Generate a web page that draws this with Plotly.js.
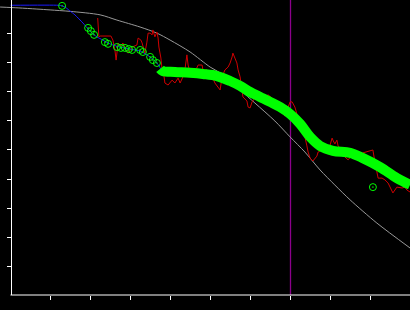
<!DOCTYPE html>
<html>
<head>
<meta charset="utf-8">
<script src="https://cdn.plot.ly/plotly-3.0.1.min.js"></script>
<style>html,body{margin:0;padding:0;background:#000;}#chart{width:410px;height:310px;}</style>
</head>
<body>
<div id="chart"></div>
<script>
// Gray reference curve
const grayX = [-0.26,0.19,0.66,0.99,1.49,2.24,2.66,3.24,3.66,3.99,4.49,4.99,5.24,5.74,6.11,6.61,6.99,7.36,7.74,8.11,8.49,9.16,9.99];
const grayY = [9.93,9.90,9.86,9.83,9.78,9.66,9.48,9.24,9.03,8.79,8.38,7.86,7.66,7.07,6.62,6.00,5.45,4.93,4.31,3.79,3.28,2.48,1.62];

// Red noisy series
const redX = [2.18,2.21,2.24,2.51,2.56,2.61,2.64,2.69,2.76,2.81,2.89,2.94,3.04,3.16,3.19,3.26,3.29,3.34,3.36,3.41,3.44,3.49,3.54,3.56,3.61,3.66,3.69,3.71,3.76,3.79,3.84,3.86,3.94,4.04,4.11,4.19,4.24,4.31,4.36,4.41,4.44,4.49,4.54,4.66,4.69,4.79,4.81,4.91,4.99,5.06,5.11,5.19,5.24,5.29,5.36,5.44,5.49,5.54,5.56,5.61,5.66,5.69,5.74,5.79,5.81,5.91,5.94,5.99,6.04,6.11,6.24,6.36,6.44,6.54,6.61,6.69,6.79,6.86,6.94,6.99,7.04,7.06,7.11,7.16,7.19,7.24,7.31,7.41,7.44,7.49,7.56,7.66,7.69,7.79,7.89,7.99,8.04,8.06,8.11,8.16,8.19,8.24,8.36,8.44,8.49,8.56,8.66,8.74,8.81,8.91,8.99,9.06,9.11,9.19,9.29,9.36,9.44,9.49,9.54,9.56,9.66,9.79,9.86,9.91,9.99];
const redY = [9.55,8.90,8.93,8.93,8.79,8.45,8.10,8.69,8.59,8.69,8.45,8.34,8.55,8.62,8.86,8.79,8.69,8.45,8.34,8.72,9.03,9.03,8.97,9.14,8.90,9.07,8.86,8.55,8.17,7.76,7.52,7.31,7.24,7.41,7.31,7.48,7.31,7.52,7.76,8.28,7.93,7.66,7.69,7.83,7.93,7.93,7.76,7.76,7.59,7.48,7.31,7.17,7.07,7.52,7.76,7.86,8.00,8.21,8.34,8.17,8.00,7.76,7.52,7.07,6.83,6.69,6.48,6.45,6.66,6.79,6.79,6.83,6.90,6.79,6.55,6.48,6.38,6.17,6.45,6.66,6.66,6.62,6.48,6.24,6.00,5.86,5.76,5.14,4.93,4.72,4.62,4.79,4.93,5.00,5.07,5.17,5.41,5.34,5.21,5.34,5.14,5.07,4.76,4.66,4.76,4.86,4.90,4.83,4.90,4.93,4.97,5.00,4.59,4.03,4.03,3.97,3.86,3.72,3.55,3.52,3.72,3.69,3.72,3.62,3.55];

// Blue fitted line
const blueX = [0.00,1.19,1.29,1.39,1.49,1.61,1.81,1.94,2.04,2.16,2.31,2.44,2.56,2.74,2.99,3.24,3.49,3.66,3.81,4.11,4.49,4.81,5.16,5.49,5.74,5.99,6.24,6.49,6.74,6.99,7.24,7.49,7.74,8.06,8.49,8.81,9.24,9.66,9.99];
const blueY = [9.99,9.99,9.97,9.90,9.79,9.66,9.38,9.17,9.03,8.90,8.79,8.69,8.62,8.55,8.48,8.41,8.21,8.00,7.72,7.69,7.66,7.62,7.55,7.38,7.21,7.00,6.83,6.66,6.48,6.24,5.90,5.45,5.14,4.97,4.90,4.72,4.41,4.03,3.80];

// Green circle points (sparse part + outlier)
const circX = [1.29,1.94,2.01,2.09,2.36,2.44,2.66,2.76,2.86,2.96,3.04,3.24,3.31,3.49,3.56,3.66,9.06];
const circY = [9.97,9.21,9.10,8.97,8.72,8.66,8.55,8.52,8.52,8.48,8.45,8.45,8.38,8.21,8.10,8.00,3.72];

// Green dense band (overlapping circles)
const bandX = [3.74,3.81,4.11,4.49,4.81,5.16,5.49,5.74,5.99,6.24,6.49,6.74,6.99,7.24,7.49,7.74,8.06,8.49,8.81,9.24,9.66,9.99];
const bandY = [7.80,7.72,7.69,7.66,7.62,7.55,7.38,7.21,7.00,6.83,6.66,6.48,6.24,5.90,5.45,5.14,4.97,4.90,4.72,4.41,4.03,3.80];

const vlineX = 7;
const tickVals = [1,2,3,4,5,6,7,8,9];

const traces = [
  {x: grayX, y: grayY, mode: 'lines', line: {color: '#999999', width: 1, shape: 'spline', smoothing: 0.8}, hoverinfo: 'skip'},
  {x: redX, y: redY, mode: 'lines', line: {color: '#d00000', width: 1}, hoverinfo: 'skip'},
  {x: blueX, y: blueY, mode: 'lines', line: {color: '#1a1aff', width: 1, shape: 'spline', smoothing: 0.6}, hoverinfo: 'skip'},
  {x: bandX, y: bandY, mode: 'lines', line: {color: '#00ff00', width: 10, shape: 'spline', smoothing: 1}, hoverinfo: 'skip'},
  {x: circX, y: circY, mode: 'markers', marker: {symbol: 'circle-open-dot', size: 7, color: '#00ff00', line: {color: '#00ff00', width: 1}}, hoverinfo: 'skip'}
];

const layout = {
  width: 410, height: 310,
  margin: {l: 0, r: 0, t: 0, b: 15, pad: 0},
  paper_bgcolor: '#000000', plot_bgcolor: '#000000',
  showlegend: false,
  xaxis: {
    range: [-0.2625, 9.9875], showgrid: false, zeroline: false, showline: false,
    tickmode: 'array', tickvals: tickVals, showticklabels: false,
    ticks: 'outside', ticklen: 4, tickwidth: 1, tickcolor: '#ffffff'
  },
  yaxis: {
    range: [0, 10.172], showgrid: false, zeroline: false,
    anchor: 'free', position: 10.5/410,
    showline: true, linecolor: '#ffffff', linewidth: 1,
    tickmode: 'array', tickvals: tickVals, showticklabels: false,
    ticks: 'outside', ticklen: 4, tickwidth: 1, tickcolor: '#ffffff'
  },
  shapes: [
    {type: 'line', xref: 'x', yref: 'paper', x0: vlineX, x1: vlineX, y0: 0, y1: 1, layer: 'below', line: {color: '#8b008b', width: 1.3}},
    {type: 'line', xref: 'x', yref: 'paper', x0: 0, x1: 9.9875, y0: 0, y1: 0, line: {color: '#ffffff', width: 1}}
  ]
};

Plotly.newPlot('chart', traces, layout, {displayModeBar: false, staticPlot: true});
</script>
</body>
</html>
